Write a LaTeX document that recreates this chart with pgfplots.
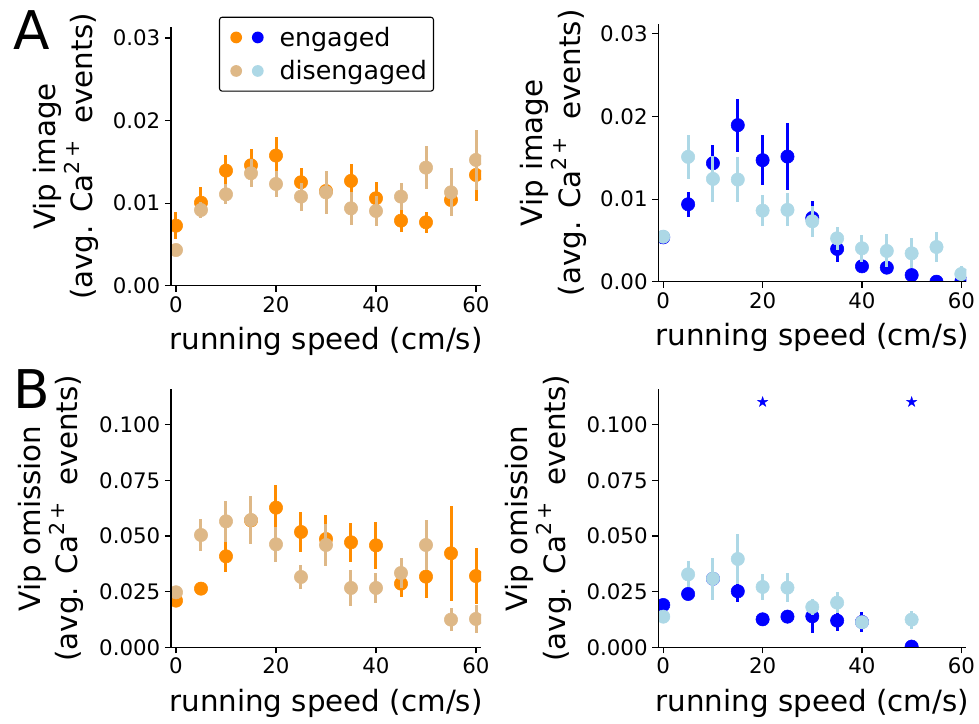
\documentclass[border=0pt]{standalone}
\usepackage{pgfplots}
\pgfplotsset{compat=1.18}
\usepackage{fontspec}
\setmainfont{DejaVu Sans}
\definecolor{cOr}{RGB}{255,140,0}
\definecolor{cTan}{RGB}{222,184,135}
\definecolor{cBl}{RGB}{0,0,255}
\definecolor{cLb}{RGB}{173,216,230}
\newcommand{\catwo}{Ca\raisebox{10pt}{\fontsize{15.4}{16}\selectfont 2\,+}\hspace{0.58em}events}
\pgfdeclareplotmark{fstar}{%
 \pgfpathmoveto{\pgfpointpolar{90}{\pgfplotmarksize}}%
 \pgfpathlineto{\pgfpointpolar{126}{0.38\pgfplotmarksize}}%
 \pgfpathlineto{\pgfpointpolar{162}{\pgfplotmarksize}}%
 \pgfpathlineto{\pgfpointpolar{198}{0.38\pgfplotmarksize}}%
 \pgfpathlineto{\pgfpointpolar{234}{\pgfplotmarksize}}%
 \pgfpathlineto{\pgfpointpolar{270}{0.38\pgfplotmarksize}}%
 \pgfpathlineto{\pgfpointpolar{306}{\pgfplotmarksize}}%
 \pgfpathlineto{\pgfpointpolar{342}{0.38\pgfplotmarksize}}%
 \pgfpathlineto{\pgfpointpolar{18}{\pgfplotmarksize}}%
 \pgfpathlineto{\pgfpointpolar{54}{0.38\pgfplotmarksize}}%
 \pgfpathclose\pgfusepathqfillstroke}
\pgfplotsset{
 myax/.style={scale only axis, anchor=south west,
  axis lines=left, axis line style={-, line width=0.8pt, black},
  tick align=outside, major tick length=4.5pt,
  tick style={line width=0.8pt, black},
  xmin=-1, xmax=61, ymin=0, xtick={0,20,40,60},
  tick label style={font=\fontsize{16}{19}\selectfont},
  label style={font=\fontsize{22}{28}\selectfont},
  xlabel={running speed (cm/s)},
  xlabel style={at={(axis description cs:0.5,0)}, anchor=base, yshift=-48.2pt},
  /pgf/number format/assume math mode=true,
  scaled y ticks=false,
  yticklabel style={/pgf/number format/fixed, /pgf/number format/fixed zerofill},
  clip marker paths=true, axis on top},
 errs/.style={only marks, mark=*, mark size=5pt, color=#1,
  mark options={draw=none, fill=#1},
  error bars/y dir=both, error bars/y explicit, error bars/error mark=none,
  error bars/error bar style={line width=2.25pt, color=#1, solid}},
}
\begin{document}
\begin{tikzpicture}
\useasboundingbox (0,0) rectangle (734.25pt,543pt);
\node[anchor=base west, font=\fontsize{40}{48}\selectfont, inner sep=0pt] at (9.75pt,505.5pt) {A};
\node[anchor=base west, font=\fontsize{40}{48}\selectfont, inner sep=0pt] at (9.75pt,236.8pt) {B};
% ---------- A left
\begin{axis}[myax, at={(128.25pt,328.725pt)}, width=232.5pt, height=193.8pt,
  ymax=0.0313, ytick={0,0.01,0.02,0.03},
  yticklabel style={/pgf/number format/precision=2},
  ylabel={Vip image\\(avg. \catwo)},
  ylabel style={at={(axis description cs:-0.3387,0.5)}, anchor=center, align=center},
  legend style={at={(axis description cs:0.1548,1.041)}, anchor=north west, draw=black, line width=0.8pt, rounded corners=2pt, font=\fontsize{19}{23}\selectfont, inner xsep=3pt, inner ysep=5.2pt, row sep=5.2pt},
  legend cell align=left]
\addplot[forget plot, errs=cOr] table[x index=0, y index=1, y error index=2, row sep=\\] {
0 0.00727 0.0016\\ 5 0.01006 0.0019\\ 10 0.01394 0.0019\\ 15 0.01459 0.0020\\
20 0.01576 0.0023\\ 25 0.01253 0.0017\\ 30 0.01147 0.0015\\ 35 0.01269 0.0020\\
40 0.01059 0.0020\\ 45 0.00788 0.0014\\ 50 0.00768 0.0013\\ 55 0.01038 0.0015\\
60 0.01341 0.0032\\};
\addplot[forget plot, errs=cTan] table[x index=0, y index=1, y error index=2, row sep=\\] {
0 0.00432 0.0004\\ 5 0.00917 0.0010\\ 10 0.01107 0.0012\\ 15 0.01362 0.0017\\
20 0.01232 0.0016\\ 25 0.01079 0.0017\\ 30 0.01131 0.0026\\ 35 0.00937 0.0020\\
40 0.00905 0.0018\\ 45 0.01079 0.0016\\ 50 0.01430 0.0026\\ 55 0.01131 0.0029\\
60 0.01523 0.0036\\};
\addlegendimage{legend image code/.code={\path[draw=none,fill=none] (0pt,0pt) rectangle (40pt,0.1pt); \fill[cOr, draw=none] (9.5pt,0pt) circle[radius=4.4pt]; \fill[cBl, draw=none] (25.7pt,0pt) circle[radius=4.4pt];}}
\addlegendentry{engaged}
\addlegendimage{legend image code/.code={\path[draw=none,fill=none] (0pt,0pt) rectangle (40pt,0.1pt); \fill[cTan, draw=none] (9.5pt,0pt) circle[radius=4.4pt]; \fill[cLb, draw=none] (25.7pt,0pt) circle[radius=4.4pt];}}
\addlegendentry{disengaged}
\end{axis}
% ---------- A right
\begin{axis}[myax, at={(493.725pt,331.725pt)}, width=231pt, height=193.3pt,
  ymax=0.0312, ytick={0,0.01,0.02,0.03},
  yticklabel style={/pgf/number format/precision=2},
  ylabel={Vip image\\(avg. \catwo)},
  ylabel style={at={(axis description cs:-0.3409,0.5)}, anchor=center, align=center}]
\addplot[errs=cBl] table[x index=0, y index=1, y error index=2, row sep=\\] {
0 0.00537 0.0005\\ 5 0.00937 0.0015\\ 10 0.01434 0.0022\\ 15 0.01895 0.0032\\
20 0.01471 0.0030\\ 25 0.01515 0.0041\\ 30 0.00772 0.0020\\ 35 0.00396 0.0016\\
40 0.00186 0.0004\\ 45 0.00170 0.0006\\ 50 0.00080 0.0003\\ 55 0.00000 0.0002\\
60 0.00000 0.0002\\};
\addplot[errs=cLb] table[x index=0, y index=1, y error index=2, row sep=\\] {
0 0.00545 0.0005\\ 5 0.01511 0.0027\\ 10 0.01244 0.0028\\ 15 0.01236 0.0027\\
20 0.00860 0.0019\\ 25 0.00869 0.0020\\ 30 0.00731 0.0019\\ 35 0.00525 0.0014\\
40 0.00404 0.0016\\ 45 0.00372 0.0020\\ 50 0.00343 0.0018\\ 55 0.00420 0.0018\\
60 0.00093 0.0010\\};
\end{axis}
% ---------- B left
\begin{axis}[myax, at={(128.25pt,57.525pt)}, width=232.5pt, height=193.5pt,
  ymax=0.1159, ytick={0,0.025,0.05,0.075,0.1},
  yticklabel style={/pgf/number format/precision=3},
  ylabel={Vip omission\\(avg. \catwo)},
  ylabel style={at={(axis description cs:-0.3871,0.5)}, anchor=center, align=center}]
\addplot[errs=cOr] table[x index=0, y index=1, y error index=2, row sep=\\] {
0 0.02096 0.002\\ 5 0.02635 0.003\\ 10 0.04087 0.007\\ 15 0.0570 0.005\\
20 0.06272 0.0100\\ 25 0.05180 0.0088\\ 30 0.04865 0.0110\\ 35 0.04716 0.0087\\
40 0.04580 0.0105\\ 45 0.02860 0.0058\\ 50 0.03174 0.0094\\ 55 0.04222 0.0214\\
60 0.03200 0.0124\\};
\addplot[errs=cTan] table[x index=0, y index=1, y error index=2, row sep=\\] {
0 0.0247 0.002\\ 5 0.05045 0.0074\\ 10 0.05659 0.0091\\ 15 0.05719 0.0108\\
20 0.04626 0.0078\\ 25 0.03159 0.0055\\ 30 0.04596 0.0095\\ 35 0.02665 0.0082\\
40 0.02665 0.0069\\ 45 0.03338 0.0066\\ 50 0.04596 0.0114\\ 55 0.01243 0.0050\\
60 0.01272 0.0065\\};
\end{axis}
% ---------- B right
\begin{axis}[myax, at={(493.725pt,57.525pt)}, width=231pt, height=193.5pt,
  ymax=0.1159, ytick={0,0.025,0.05,0.075,0.1},
  yticklabel style={/pgf/number format/precision=3},
  ylabel={Vip omission\\(avg. \catwo)},
  ylabel style={at={(axis description cs:-0.3896,0.5)}, anchor=center, align=center}]
\addplot[errs=cBl] table[x index=0, y index=1, y error index=2, row sep=\\] {
0 0.0190 0.002\\ 5 0.02395 0.002\\ 10 0.0308 0.004\\ 15 0.02515 0.005\\
20 0.01257 0.0015\\ 25 0.01377 0.002\\ 30 0.01392 0.0076\\ 35 0.01198 0.0045\\
40 0.01138 0.0045\\ 50 0.0003 0.0005\\};
\addplot[errs=cLb] table[x index=0, y index=1, y error index=2, row sep=\\] {
0 0.01377 0.002\\ 5 0.03278 0.0058\\ 10 0.03084 0.0094\\ 15 0.03967 0.0113\\
20 0.0271 0.006\\ 25 0.0268 0.0066\\ 30 0.01811 0.0038\\ 35 0.02006 0.0048\\
40 0.01123 0.003\\ 50 0.01243 0.004\\};
\addplot[only marks, mark=fstar, mark size=4pt, color=cBl, mark options={fill=cBl, draw=cBl, line width=0.3pt}] coordinates {(20,0.1102) (50,0.1102)};
\end{axis}
\end{tikzpicture}
\end{document}
